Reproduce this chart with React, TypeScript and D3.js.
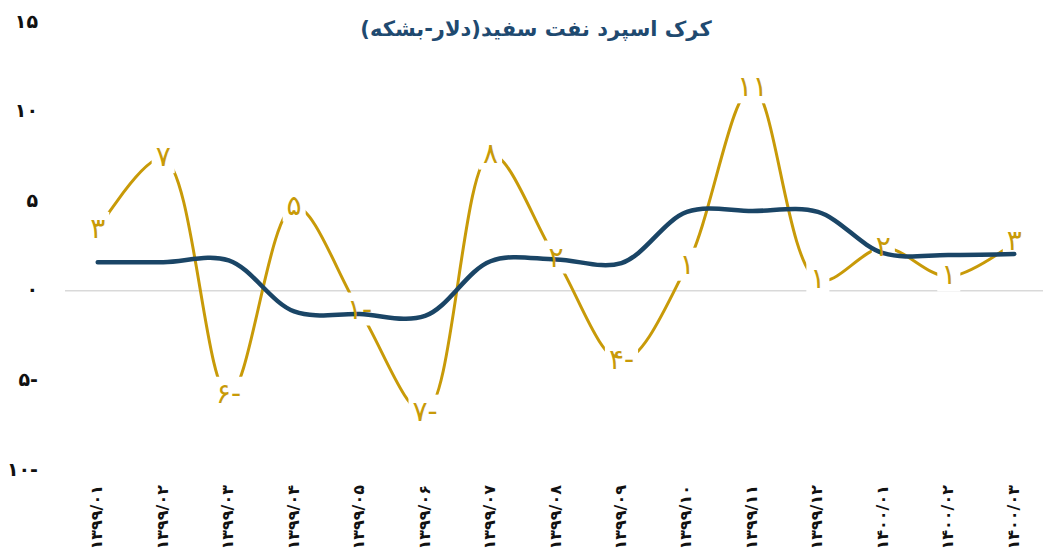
import { useEffect, useRef } from 'react'
import * as d3 from 'd3'

// months (Persian calendar)
const months = [
  '۱۳۹۹/۰۱', '۱۳۹۹/۰۲', '۱۳۹۹/۰۳', '۱۳۹۹/۰۴', '۱۳۹۹/۰۵',
  '۱۳۹۹/۰۶', '۱۳۹۹/۰۷', '۱۳۹۹/۰۸', '۱۳۹۹/۰۹', '۱۳۹۹/۱۰',
  '۱۳۹۹/۱۱', '۱۳۹۹/۱۲', '۱۴۰۰/۰۱', '۱۴۰۰/۰۲', '۱۴۰۰/۰۳',
]
// kerosene crack spread, monthly
const spread = [3.4, 7.4, -5.8, 4.7, -1.1, -6.8, 7.6, 1.8, -3.9, 1.4, 11.3, 0.6, 2.4, 0.8, 2.7]
// smoothed trend line
const trend = [1.6, 1.6, 1.7, -1.15, -1.3, -1.4, 1.65, 1.75, 1.55, 4.4, 4.45, 4.4, 2.1, 2.0, 2.05]
const yTicks = [-10, -5, 0, 5, 10, 15]

const title = 'کرک اسپرد نفت سفید(دلار-بشکه)'

const toFa = (s: string) => s.replace(/\d/g, d => '۰۱۲۳۴۵۶۷۸۹'[+d])
const fmt = (v: number) => (v < 0 ? toFa(String(Math.abs(v))) + '-' : toFa(String(v)))

const W = 1043
const H = 556
const FONT = '"DejaVu Sans", sans-serif'

export default function App() {
  const svgRef = useRef<SVGSVGElement>(null)

  useEffect(() => {
    if (!svgRef.current) return
    const svg = d3.select(svgRef.current)
    svg.selectAll('*').remove()

    const x = d3.scaleBand<string>().domain(months).range([65, 1047]).padding(0)
    const y = d3.scaleLinear().domain([-10, 15]).range([470, 22])
    const cx = (i: number) => (x(months[i]) ?? 0) + x.bandwidth() / 2

    // title
    svg.append('text')
      .attr('x', 536)
      .attr('y', 30)
      .attr('text-anchor', 'middle')
      .attr('dominant-baseline', 'middle')
      .attr('font-family', FONT)
      .attr('font-size', 21)
      .attr('font-weight', 700)
      .attr('fill', '#1f4a70')
      .text(title)

    // y axis labels
    svg.append('g')
      .selectAll('text')
      .data(yTicks)
      .enter()
      .append('text')
      .attr('x', 38)
      .attr('y', d => y(d))
      .attr('text-anchor', 'end')
      .attr('dominant-baseline', 'middle')
      .attr('font-family', FONT)
      .attr('font-size', 19)
      .attr('font-weight', 700)
      .attr('fill', '#111')
      .text(d => fmt(d))

    // zero line
    svg.append('line')
      .attr('x1', 65)
      .attr('x2', W)
      .attr('y1', y(0))
      .attr('y2', y(0))
      .attr('stroke', '#d9d9d9')
      .attr('stroke-width', 1.5)

    // x axis labels
    svg.append('g')
      .selectAll('text')
      .data(months)
      .enter()
      .append('text')
      .attr('transform', (_, i) => `translate(${cx(i)},485) rotate(-90)`)
      .attr('text-anchor', 'end')
      .attr('dominant-baseline', 'middle')
      .attr('font-family', FONT)
      .attr('font-size', 16)
      .attr('font-weight', 700)
      .attr('fill', '#111')
      .text(d => d)

    const line = d3.line<number>()
      .x((_, i) => cx(i))
      .y(d => y(d))
      .curve(d3.curveCatmullRom.alpha(0.5))

    // gold series
    svg.append('path')
      .attr('d', line(spread))
      .attr('fill', 'none')
      .attr('stroke', '#c89a08')
      .attr('stroke-width', 3)

    // label halos
    const halos = svg.append('g')
    const labels = svg.append('g')
    const texts = labels.selectAll('text')
      .data(spread)
      .enter()
      .append('text')
      .attr('x', (_, i) => cx(i))
      .attr('y', d => y(d))
      .attr('text-anchor', 'middle')
      .attr('dominant-baseline', 'middle')
      .attr('font-family', FONT)
      .attr('font-size', 28)
      .attr('font-weight', 500)
      .attr('fill', '#c89a08')
      .text(d => fmt(Math.round(d)))

    texts.each(function () {
      const b = (this as SVGTextElement).getBBox()
      halos.append('rect')
        .attr('x', b.x - 4)
        .attr('y', b.y)
        .attr('width', b.width + 8)
        .attr('height', b.height)
        .attr('fill', 'white')
    })

    // trend line (drawn over the halos)
    svg.append('path')
      .attr('d', line(trend))
      .attr('fill', 'none')
      .attr('stroke', '#1a4566')
      .attr('stroke-width', 4.5)
      .attr('stroke-linecap', 'round')
    labels.raise()
  }, [])

  return (
    <svg
      ref={svgRef}
      width={W}
      height={H}
      style={{ position: 'absolute', left: 0, top: 0, background: 'white' }}
    />
  )
}
